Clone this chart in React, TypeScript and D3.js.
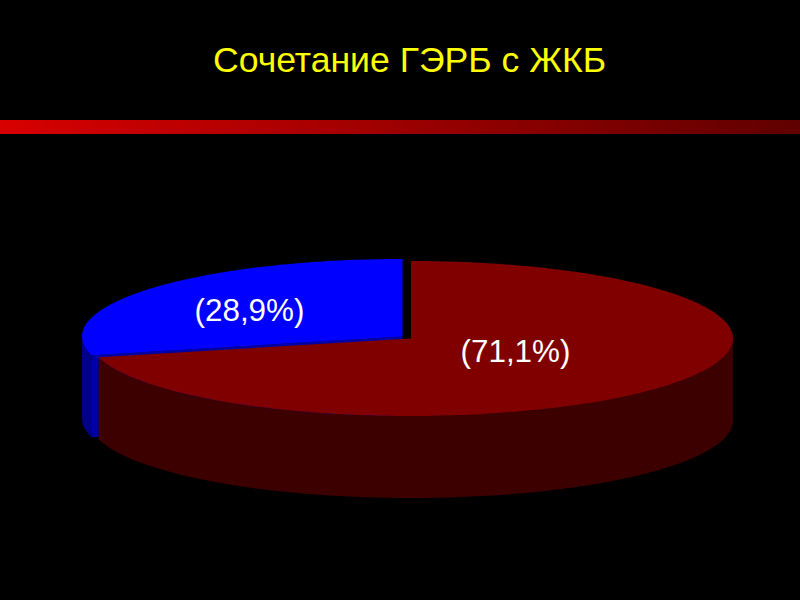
import React from "react";
import * as d3 from "d3";

const title = "Сочетание ГЭРБ с ЖКБ";
const categories = ["ЖКБ+", "ЖКБ-"];
const values = [71.1, 28.9];
const labels = ["(71,1%)", "(28,9%)"];
const topColors = ["#800000", "#0000ff"];
const sideColors = ["#3c0000", "#00008a"];
const cutColors = ["#3c0000", "#0000a8"];
const offsets = [
  { x: 411, y: 338.5 },
  { x: 402.5, y: 336.5 },
];
const radiiX = [322, 320.5];
const labelPos = [
  { x: 515.5, y: 351 },
  { x: 249.5, y: 310 },
];

const RY = 77.5;
const DEPTH = 82;

type P = [number, number];

export default function App() {
  const arcs = d3.pie<number>().sort(null)(values);
  const line = d3.line<P>();
  const pt = (i: number, a: number, dy = 0): P => [
    offsets[i].x + radiiX[i] * Math.sin(a),
    offsets[i].y - RY * Math.cos(a) + dy,
  ];
  const samples = (a0: number, a1: number) => {
    const n = Math.max(2, Math.ceil(Math.abs(a1 - a0) * 60));
    return d3.range(n + 1).map((k) => a0 + ((a1 - a0) * k) / n);
  };
  const topPath = (i: number) => {
    const c = offsets[i];
    const pts: P[] = samples(arcs[i].startAngle, arcs[i].endAngle).map((a) => pt(i, a));
    return line([[c.x, c.y], ...pts]) + "Z";
  };
  const sidePath = (i: number, a0: number, a1: number) => {
    const s = samples(a0, a1);
    const upper = s.map((a) => pt(i, a));
    const lower = s.slice().reverse().map((a) => pt(i, a, DEPTH));
    return line([...upper, ...lower]) + "Z";
  };
  // Visible outer wall: the lower half of the rim only (angles PI/2..3PI/2).
  const wallRange = (i: number): [number, number] => [
    Math.max(arcs[i].startAngle, Math.PI / 2),
    Math.min(arcs[i].endAngle, (3 * Math.PI) / 2),
  ];
  const cutFace = (i: number) => {
    const c = offsets[i];
    const e = pt(i, arcs[i].startAngle);
    return line([
      [c.x, c.y],
      e,
      [e[0], e[1] + DEPTH],
      [c.x, c.y + DEPTH],
    ]) + "Z";
  };
  const [r0, r1] = wallRange(0);
  const [b0, b1] = wallRange(1);

  return (
    <svg
      width={800}
      height={600}
      viewBox="0 0 800 600"
      style={{ position: "absolute", left: 0, top: 0, display: "block" }}
    >
      <defs>
        <linearGradient id="rule" x1="0" x2="1" y1="0" y2="0">
          <stop offset="0" stopColor="#d80000" />
          <stop offset="1" stopColor="#600000" />
        </linearGradient>
        <filter id="soft" x="-5%" y="-5%" width="110%" height="110%">
          <feGaussianBlur stdDeviation="0.5" />
        </filter>
      </defs>
      <rect width={800} height={600} fill="#000" />
      <text
        x={409.5}
        y={72}
        textAnchor="middle"
        fontFamily="'Liberation Sans', Arial, sans-serif"
        fontSize={35.6}
        fill="#ffff00"
      >
        {title}
      </text>
      <rect x={0} y={120} width={800} height={14} fill="url(#rule)" filter="url(#soft)" />
      <g filter="url(#soft)" data-categories={categories.join(",")}>
        <path d={sidePath(1, b0, b1)} fill={sideColors[1]} />
        <path d={cutFace(1)} fill={cutColors[1]} />
        <path d={topPath(1)} fill={topColors[1]} />
        <path d={sidePath(0, r0, r1)} fill={sideColors[0]} />
        <path d={topPath(0)} fill={topColors[0]} />
      </g>
      {labels.map((t, i) => (
        <text
          key={t}
          x={labelPos[i].x}
          y={labelPos[i].y + 10.5}
          textAnchor="middle"
          fontFamily="'Liberation Sans', Arial, sans-serif"
          fontSize={31.4}
          fill="#ffffff"
        >
          {t}
        </text>
      ))}
    </svg>
  );
}
